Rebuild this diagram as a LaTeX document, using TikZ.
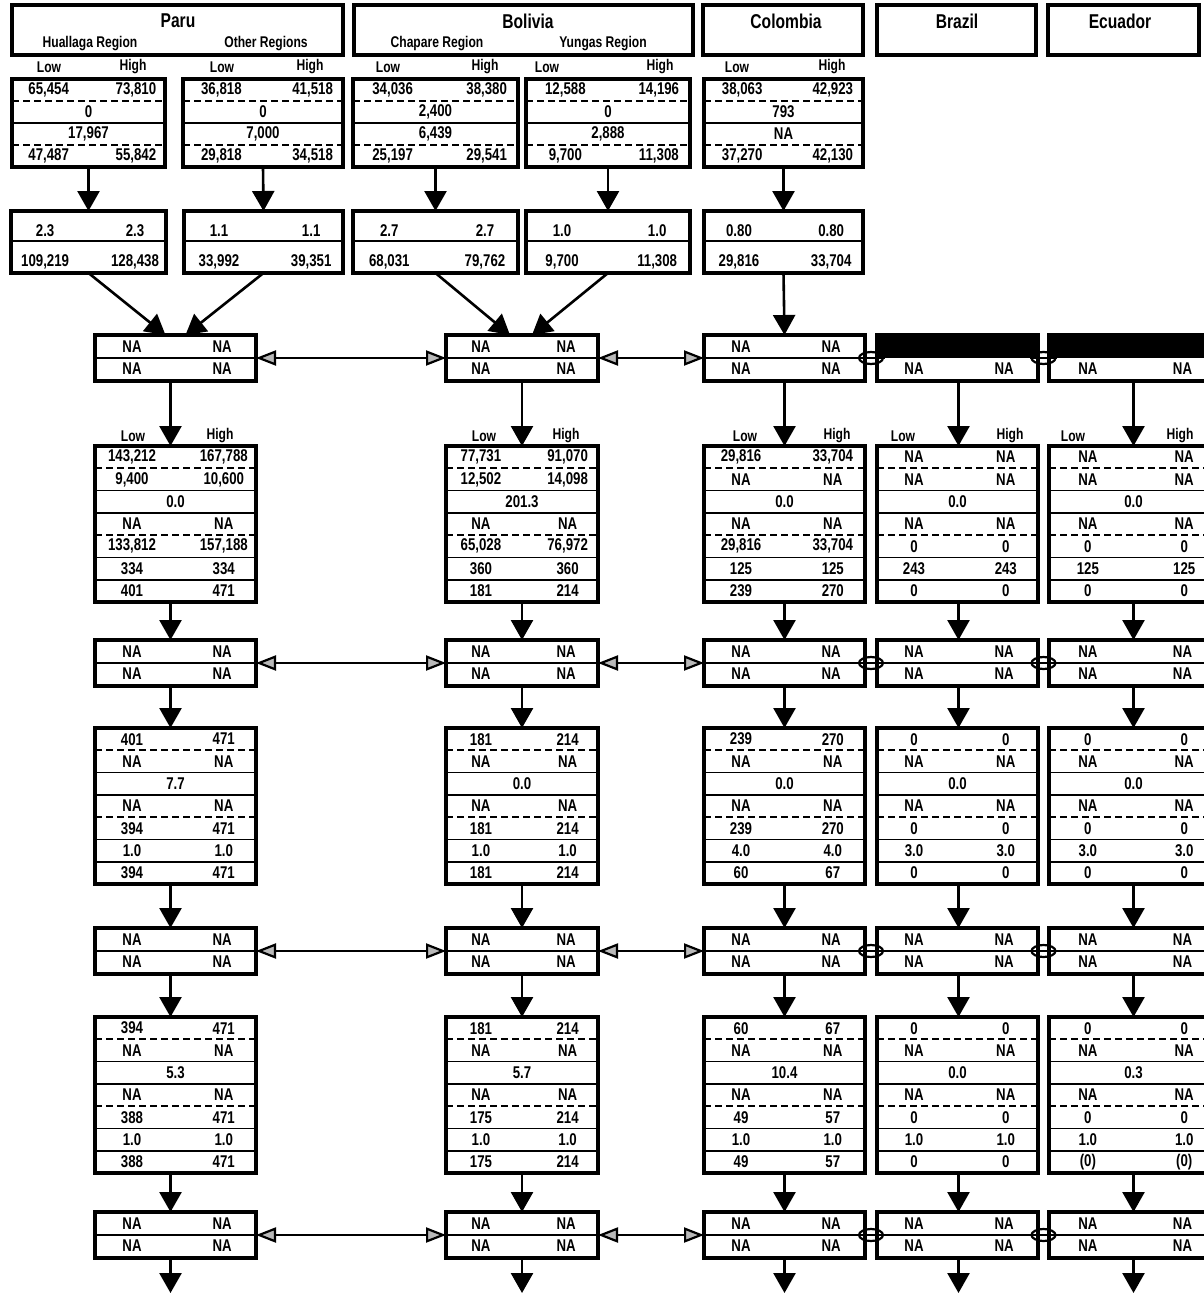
\documentclass[tikz,border=0pt]{standalone}
\usepackage{fontspec}
\newfontfamily\cf[FakeStretch=0.78]{Liberation Sans}
\usetikzlibrary{arrows.meta,calc,shapes.geometric}

\tikzset{
  frame/.style={draw, line width=3.2pt, rectangle, inner sep=0pt, outer sep=0pt},
  inline/.style={line width=1.6pt},
  dline/.style={line width=1.8pt, dash pattern=on 7pt off 4pt},
  numtxt/.style={font=\cf\bfseries\fontsize{17}{17}\selectfont, inner sep=0pt},
  ttl/.style={font=\cf\bfseries\fontsize{20}{20}\selectfont, inner sep=0pt},
  subttl/.style={font=\cf\bfseries\fontsize{15.5}{15.5}\selectfont, inner sep=0pt},
  lh/.style={font=\cf\bfseries\fontsize{15.5}{15.5}\selectfont, inner sep=0pt},
  varrow/.style={line width=2.6pt, -{Triangle[length=20pt,width=22pt]}},
  hlink/.style={line width=2.6pt, {Triangle[length=20pt,width=15pt,fill=gray!55,line width=2.2pt]}-{Triangle[length=20pt,width=15pt,fill=gray!55,line width=2.2pt]}},
  olink/.style={line width=2pt, shorten <=-8pt, shorten >=-8pt},
  oval/.style={draw, ellipse, line width=2.2pt, minimum width=24pt, minimum height=12pt, inner sep=0pt},
}

% top data box: 4 rows, rows 2 and 3 centred
\newcommand\TopBox[5]{%
  \node[frame, anchor=north west, minimum width={#3-#2}, minimum height=88] (#1) at (#2,#4) {};
  \draw[dline] (#2,{#4+22}) -- (#3,{#4+22});
  \draw[inline] (#2,{#4+44}) -- (#3,{#4+44});
  \draw[dline] (#2,{#4+66}) -- (#3,{#4+66});
  \foreach \a/\b [count=\k] in {#5}{%
    \pgfmathsetmacro\yy{#4+(\k-0.5)*22}
    \ifnum\k=2 \node[numtxt] (#1-c\k) at ({(#2+#3)/2},\yy) {\a};
    \else\ifnum\k=3 \node[numtxt] (#1-c\k) at ({(#2+#3)/2},\yy) {\a};
    \else
      \node[numtxt] (#1-l\k) at ({#2+0.24*(#3-#2)},\yy) {\a};
      \node[numtxt] (#1-r\k) at ({#2+0.81*(#3-#2)},\yy) {\b};
    \fi\fi
  }%
}
% second box: 2 rows
\newcommand\MidBox[8]{%
  \node[frame, anchor=north west, minimum width={#3-#2}, minimum height=62] (#1) at (#2,#4) {};
  \draw[inline] (#2,{#4+30}) -- (#3,{#4+30});
  \node[numtxt] (#1-l1) at ({#2+0.22*(#3-#2)},{#4+20}) {#5};
  \node[numtxt] (#1-r1) at ({#2+0.80*(#3-#2)},{#4+20}) {#6};
  \node[numtxt] (#1-l2) at ({#2+0.22*(#3-#2)},{#4+51}) {#7};
  \node[numtxt] (#1-r2) at ({#2+0.80*(#3-#2)},{#4+51}) {#8};
}
% NA box
\newcommand\NABox[4]{%
  \node[frame, anchor=north west, minimum width={#3-#2}, minimum height=46] (#1) at (#2,#4) {};
  \draw[inline] (#2,{#4+23}) -- (#3,{#4+23});
  \node[numtxt] (#1-l1) at ({#2+0.23*(#3-#2)},{#4+12}) {NA};
  \node[numtxt] (#1-r1) at ({#2+0.79*(#3-#2)},{#4+12}) {NA};
  \node[numtxt] (#1-l2) at ({#2+0.23*(#3-#2)},{#4+34}) {NA};
  \node[numtxt] (#1-r2) at ({#2+0.79*(#3-#2)},{#4+34}) {NA};
}
\newcommand\NABoxDark[4]{%
  \fill[black] (#2,#4) rectangle (#3,{#4+23});
  \node[frame, anchor=north west, minimum width={#3-#2}, minimum height=46] (#1) at (#2,#4) {};
  \node[numtxt] (#1-l2) at ({#2+0.23*(#3-#2)},{#4+34}) {NA};
  \node[numtxt] (#1-r2) at ({#2+0.79*(#3-#2)},{#4+34}) {NA};
}
% big box: 7 rows, row 3 centred
\newcommand\BigBox[5]{%
  \node[frame, anchor=north west, minimum width={#3-#2}, minimum height=156] (#1) at (#2,#4) {};
  \foreach \k/\sty in {1/dline,2/inline,3/inline,4/dline,5/inline,6/inline}
    \draw[\sty] (#2,{#4+\k*22.286}) -- (#3,{#4+\k*22.286});
  \foreach \a/\b [count=\k] in {#5}{%
    \pgfmathsetmacro\yy{#4+(\k-0.5)*22.286}
    \ifnum\k=3 \node[numtxt] (#1-c\k) at ({(#2+#3)/2},\yy) {\a};
    \else
      \node[numtxt] (#1-l\k) at ({#2+0.23*(#3-#2)},\yy) {\a};
      \node[numtxt] (#1-r\k) at ({#2+0.80*(#3-#2)},\yy) {\b};
    \fi
  }%
}

\begin{document}
\begin{tikzpicture}[x=1pt,y=-1pt]
\path[use as bounding box, fill=white] (0,0) rectangle (1204,1295);

% headers
\node[frame, anchor=north west, minimum width=331, minimum height=50] (hPeru) at (12,5) {};
\node[ttl] (hPeruT) at (178,21) {Paru};
\node[subttl] (hPeruS1) at (90,44) {Huallaga Region};
\node[subttl] (hPeruS2) at (266,44) {Other Regions};
\node[frame, anchor=north west, minimum width=339, minimum height=50] (hBol) at (354,5) {};
\node[ttl] (hBolT) at (528,21) {Bolivia};
\node[subttl] (hBolS1) at (437,44) {Chapare Region};
\node[subttl] (hBolS2) at (603,44) {Yungas Region};
\node[frame, anchor=north west, minimum width=160, minimum height=50] (hCol) at (703,5) {};
\node[ttl] (hColT) at (786,21) {Colombia};
\node[frame, anchor=north west, minimum width=159, minimum height=50] (hBra) at (877,5) {};
\node[ttl] (hBraT) at (957,21) {Brazil};
\node[frame, anchor=north west, minimum width=151, minimum height=50] (hEcu) at (1048,5) {};
\node[ttl] (hEcuT) at (1120,21) {Ecuador};

% low/high labels (top)
\foreach \x/\t [count=\i] in {49/Low,133/High,222/Low,310/High,388/Low,485/High,547/Low,660/High,737/Low,832/High}
  \node[lh] (lhTop\i) at (\x,67) {\t};

% top boxes
\TopBox{tP1}{12}{165}{79}{{65,454}/{73,810}, 0/x, {17,967}/x, {47,487}/{55,842}}
\TopBox{tP2}{183}{343}{79}{{36,818}/{41,518}, 0/x, {7,000}/x, {29,818}/{34,518}}
\TopBox{tB1}{353}{518}{79}{{34,036}/{38,380}, {2,400}/x, {6,439}/x, {25,197}/{29,541}}
\TopBox{tB2}{526}{690}{79}{{12,588}/{14,196}, 0/x, {2,888}/x, {9,700}/{11,308}}
\TopBox{tC}{704}{863}{79}{{38,063}/{42,923}, 793/x, NA/x, {37,270}/{42,130}}

% second boxes
\MidBox{sP1}{11}{166}{211}{2.3}{2.3}{109,219}{128,438}
\MidBox{sP2}{184}{343}{211}{1.1}{1.1}{33,992}{39,351}
\MidBox{sB1}{353}{518}{211}{2.7}{2.7}{68,031}{79,762}
\MidBox{sB2}{526}{690}{211}{1.0}{1.0}{9,700}{11,308}
\MidBox{sC}{704}{863}{211}{0.80}{0.80}{29,816}{33,704}

\foreach \n in {P1,P2,B1,B2,C}
  \draw[varrow] (t\n.south) -- (s\n.north);

% NA rows
\foreach \r/\T in {A/335,B/640,C/928,D/1212}{
  \NABox{p\r}{95}{256}{\T}
  \NABox{b\r}{446}{598}{\T}
  \NABox{c\r}{704}{865}{\T}
}
\NABoxDark{rA}{877}{1038}{335}
\NABoxDark{eA}{1049}{1218}{335}
\foreach \r/\T in {B/640,C/928,D/1212}{
  \NABox{r\r}{877}{1038}{\T}
  \NABox{e\r}{1049}{1218}{\T}
}

% low/high labels above first big boxes
\foreach \x/\t [count=\i] in {133/Low,220/High,484/Low,566/High,745/Low,837/High,903/Low,1010/High,1073/Low,1180/High}
  \node[lh] (lhMid\i) at (\x,436) {\t};

% big boxes
\BigBox{p1}{95}{256}{446}{{143,212}/{167,788}, {9,400}/{10,600}, {0.0}/x, NA/NA, {133,812}/{157,188}, 334/334, 401/471}
\BigBox{b1}{446}{598}{446}{{77,731}/{91,070}, {12,502}/{14,098}, {201.3}/x, NA/NA, {65,028}/{76,972}, 360/360, 181/214}
\BigBox{c1}{704}{865}{446}{{29,816}/{33,704}, NA/NA, {0.0}/x, NA/NA, {29,816}/{33,704}, 125/125, 239/270}
\BigBox{r1}{877}{1038}{446}{NA/NA, NA/NA, {0.0}/x, NA/NA, 0/0, 243/243, 0/0}
\BigBox{e1}{1049}{1218}{446}{NA/NA, NA/NA, {0.0}/x, NA/NA, 0/0, 125/125, 0/0}

\BigBox{p2}{95}{256}{728}{401/471, NA/NA, {7.7}/x, NA/NA, 394/471, {1.0}/{1.0}, 394/471}
\BigBox{b2}{446}{598}{728}{181/214, NA/NA, {0.0}/x, NA/NA, 181/214, {1.0}/{1.0}, 181/214}
\BigBox{c2}{704}{865}{728}{239/270, NA/NA, {0.0}/x, NA/NA, 239/270, {4.0}/{4.0}, 60/67}
\BigBox{r2}{877}{1038}{728}{0/0, NA/NA, {0.0}/x, NA/NA, 0/0, {3.0}/{3.0}, 0/0}
\BigBox{e2}{1049}{1218}{728}{0/0, NA/NA, {0.0}/x, NA/NA, 0/0, {3.0}/{3.0}, 0/0}

\BigBox{p3}{95}{256}{1017}{394/471, NA/NA, {5.3}/x, NA/NA, 388/471, {1.0}/{1.0}, 388/471}
\BigBox{b3}{446}{598}{1017}{181/214, NA/NA, {5.7}/x, NA/NA, 175/214, {1.0}/{1.0}, 175/214}
\BigBox{c3}{704}{865}{1017}{60/67, NA/NA, {10.4}/x, NA/NA, 49/57, {1.0}/{1.0}, 49/57}
\BigBox{r3}{877}{1038}{1017}{0/0, NA/NA, {0.0}/x, NA/NA, 0/0, {1.0}/{1.0}, 0/0}
\BigBox{e3}{1049}{1218}{1017}{0/0, NA/NA, {0.3}/x, NA/NA, 0/0, {1.0}/{1.0}, (0)/(0)}

% converging arrows into first NA row
\draw[varrow] (sP1.south) -- ([xshift=-10pt]pA.north);
\draw[varrow] (sP2.south) -- ([xshift=10pt]pA.north);
\draw[varrow] (sB1.south) -- ([xshift=-12pt]bA.north);
\draw[varrow] (sB2.south) -- ([xshift=10pt]bA.north);
\draw[varrow] (sC.south) -- (cA.north);

% vertical chains
\foreach \cc/\s in {p/-5,b/0,c/0,r/1,e/0}{
  \draw[varrow] ([xshift=\s pt]\cc A.south) -- ([xshift=\s pt]\cc 1.north);
  \draw[varrow] ([xshift=\s pt]\cc 1.south) -- ([xshift=\s pt]\cc B.north);
  \draw[varrow] ([xshift=\s pt]\cc B.south) -- ([xshift=\s pt]\cc 2.north);
  \draw[varrow] ([xshift=\s pt]\cc 2.south) -- ([xshift=\s pt]\cc C.north);
  \draw[varrow] ([xshift=\s pt]\cc C.south) -- ([xshift=\s pt]\cc 3.north);
  \draw[varrow] ([xshift=\s pt]\cc 3.south) -- ([xshift=\s pt]\cc D.north);
  \path ([xshift=\s pt]\cc D.south) ++(0,35) coordinate (\cc End);
  \draw[varrow] ([xshift=\s pt]\cc D.south) -- (\cc End);
}

% horizontal links
\foreach \r in {A,B,C,D}{
  \draw[hlink] (p\r.east) -- (b\r.west);
  \draw[hlink] (b\r.east) -- (c\r.west);
  \draw[olink] (c\r.east) -- node[oval] (ocr\r) {} (r\r.west);
  \draw[olink] (r\r.east) -- node[oval] (ore\r) {} (e\r.west);
}
\end{tikzpicture}
\end{document}
